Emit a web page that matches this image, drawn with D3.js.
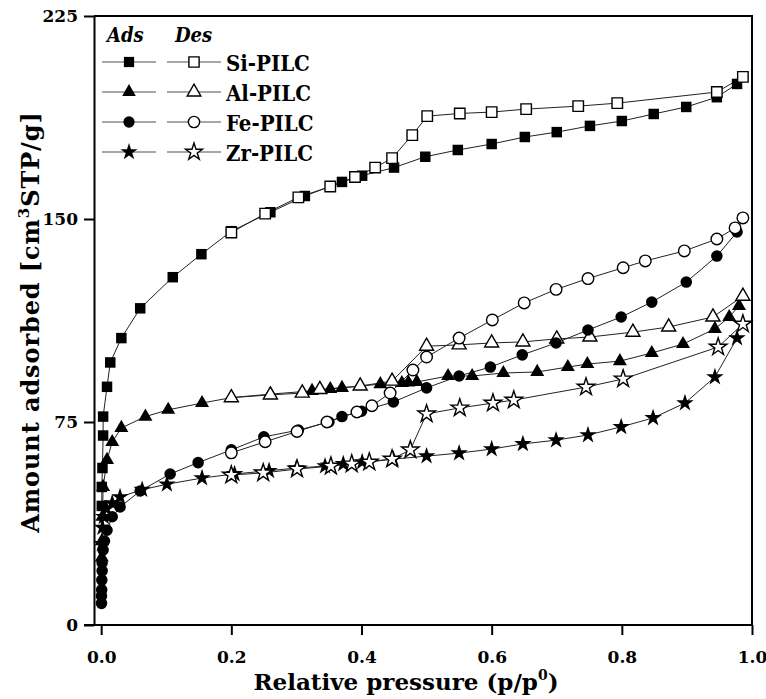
<!DOCTYPE html>
<html>
<head>
<meta charset="utf-8">
<script src="https://cdn.jsdelivr.net/npm/d3@7"></script>
<style>
  body { margin: 0; background: #fff; }
  text { font-family: 'DejaVu Serif', serif; font-weight: bold; }
  .cond { font-stretch: condensed; }
</style>
</head>
<body>
<div id="chart"></div>
<script>
// N2 isotherms, [relative pressure, amount adsorbed]

/* DATA */
const samples = ["Si-PILC", "Al-PILC", "Fe-PILC", "Zr-PILC"]
const xTicks = [0, 0.2, 0.4, 0.6, 0.8, 1.0]
const yTicks = [0, 75, 150, 225]

const siAds = [[0.001,44],[0.001,51],[0.002,58],[0.003,70],[0.003,77],[0.009,88],[0.014,97],[0.031,106],[0.06,117],[0.11,128.5],[0.154,137],[0.2,145.5],[0.26,152.5],[0.313,158.5],[0.37,163.7],[0.401,166],[0.45,169],[0.498,173],[0.548,175.5],[0.6,177.7],[0.651,180.3],[0.7,182.1],[0.751,184.4],[0.8,186.2],[0.849,188.8],[0.899,191.4],[0.946,195],[0.977,199.9]]
const siDes = [[0.986,202.5],[0.946,196.9],[0.793,192.8],[0.733,191.7],[0.653,190.6],[0.6,189.5],[0.551,189],[0.501,188],[0.478,181],[0.447,172.5],[0.421,169],[0.39,165.5],[0.352,162],[0.303,158],[0.252,152],[0.2,145]]

const alAds = [[0.001,25],[0.001,31],[0.002,40],[0.003,51],[0.009,61],[0.017,67.6],[0.031,72.8],[0.068,77],[0.103,79.5],[0.155,82],[0.2,84],[0.26,85.3],[0.324,86.5],[0.352,87.2],[0.37,87.6],[0.429,89],[0.462,89.4],[0.472,89.6],[0.485,89.8],[0.533,92],[0.57,92],[0.618,93.1],[0.67,93.5],[0.717,95.3],[0.747,96.4],[0.797,97.5],[0.846,100.5],[0.894,103.8],[0.943,109.4],[0.965,113.8],[0.98,117.9]]
const alDes = [[0.986,121.5],[0.94,113.8],[0.872,110.1],[0.817,108.2],[0.751,106.4],[0.7,105.7],[0.648,104.6],[0.6,104.2],[0.55,103.5],[0.5,103],[0.447,90.1],[0.398,88.3],[0.336,87],[0.309,85.7],[0.26,85],[0.2,84]]

const feAds = [[0.0005,8],[0.0005,10.7],[0.0008,13],[0.001,16.6],[0.0015,20],[0.0015,23],[0.003,27.7],[0.005,31],[0.009,35],[0.017,40],[0.029,43.6],[0.06,49.5],[0.106,55.8],[0.149,60],[0.2,64.7],[0.25,69.5],[0.303,72],[0.35,75],[0.37,77],[0.4,79],[0.449,82.4],[0.5,87.6],[0.55,92],[0.598,95.3],[0.647,99.8],[0.699,104.2],[0.748,109],[0.799,113.8],[0.846,119.3],[0.899,126.7],[0.946,136.3],[0.977,145.2]]
const feDes = [[0.986,150.4],[0.974,146.7],[0.946,142.6],[0.896,138.2],[0.836,134.5],[0.802,132],[0.748,128],[0.699,124],[0.65,119],[0.601,112.7],[0.55,106],[0.5,99],[0.479,94.2],[0.444,85.7],[0.416,81],[0.393,78.7],[0.347,75],[0.301,71.5],[0.252,67.7],[0.2,63.6]]

const zrAds = [[0.001,30],[0.002,36],[0.004,40],[0.008,43],[0.017,45],[0.029,47.3],[0.063,50],[0.101,52],[0.155,54.3],[0.205,55.8],[0.258,57],[0.3,58],[0.344,58.7],[0.372,59.5],[0.401,60.2],[0.449,61.3],[0.5,62.4],[0.55,63.5],[0.6,65],[0.648,66.9],[0.699,68.3],[0.748,70.2],[0.799,73.2],[0.848,76.5],[0.897,82],[0.943,91.6],[0.977,106]]
const zrDes = [[0.986,111.2],[0.948,102.7],[0.802,90.9],[0.745,87.9],[0.634,83.1],[0.602,82],[0.551,80.2],[0.5,78],[0.475,64.7],[0.447,61.3],[0.412,60.2],[0.385,59.5],[0.353,58.7],[0.301,57.6],[0.249,56.2],[0.2,55.4]]

/* CONSTANTS */
const width = 766
const height = 699
const margin = { top: 16, bottom: 74, left: 94, right: 14 }

const series = [
  { name: "Si-PILC", ads: siAds, des: siDes, shape: d3.symbolSquare, size: 110 },
  { name: "Al-PILC", ads: alAds, des: alDes, shape: d3.symbolTriangle, size: 85 },
  { name: "Fe-PILC", ads: feAds, des: feDes, shape: d3.symbolCircle, size: 105 },
  { name: "Zr-PILC", ads: zrAds, des: zrDes, shape: d3.symbolStar, size: 95 }
]

// SCALES
const xScale = d3.scaleLinear()
  .domain([-0.011, 1.0]) // zero sits a bit off the axis line
  .range([margin.left, width - margin.right])

const yScale = d3.scaleLinear()
  .domain([0, 225])
  .range([height - margin.bottom, margin.top])

const svg = d3.select("#chart")
  .append("svg")
  .attr("width", width)
  .attr("height", height)

// AXES
const xAxis = d3.axisBottom(xScale)
  .tickValues(xTicks)
  .tickSize(10)
  .tickSizeOuter(0)
  .tickFormat(d3.format(".1f"))

const yAxis = d3.axisLeft(yScale)
  .tickValues(yTicks)
  .tickSize(10)
  .tickSizeOuter(0)

const xAxisGroup = svg.append("g")
  .attr("transform", `translate(0, ${height - margin.bottom})`)
  .call(xAxis)

const yAxisGroup = svg.append("g")
  .attr("transform", `translate(${margin.left}, 0)`)
  .call(yAxis)

// extend the bottom axis under the 0 tick like the original
xAxisGroup.select(".domain").attr("d", `M${margin.left - 10},0H${width - margin.right}`)

svg.selectAll(".domain, .tick line")
  .attr("stroke", "#000")
  .attr("stroke-width", 2)
svg.selectAll(".tick text")
  .attr("fill", "#000")
  .style("font-size", "17px")
xAxisGroup.selectAll(".tick text").attr("dy", "1.45em")
yAxisGroup.selectAll(".tick text").attr("x", -16)

// top and right border
svg.append("path")
  .attr("d", `M${margin.left},${margin.top}H${width - margin.right}V${height - margin.bottom}`)
  .attr("fill", "none")
  .attr("stroke", "#000")
  .attr("stroke-width", 2)

// AXIS TITLES
const xTitle = svg.append("text")
  .attr("x", 406)
  .attr("y", 690)
  .attr("text-anchor", "middle")
  .style("font-size", "23px")
xTitle.append("tspan").text("Relative pressure (p/p")
xTitle.append("tspan").attr("dy", -10).style("font-size", "14px").text("0")
xTitle.append("tspan").attr("dy", 10).text(")")

const yTitle = svg.append("text")
  .attr("transform", `translate(39, 322) rotate(-90)`)
  .attr("text-anchor", "middle")
  .style("font-size", "24px")
  .style("letter-spacing", "0.9px")
yTitle.append("tspan").text("Amount adsorbed [cm")
yTitle.append("tspan").attr("dy", -10).style("font-size", "15px").text("3")
yTitle.append("tspan").attr("dy", 10).text("STP/g]")

// LINES
const line = d3.line()
  .x(d => xScale(d[0]))
  .y(d => yScale(d[1]))

const plot = svg.append("g")

series.forEach(s => {
  plot.append("path")
    .attr("d", line(s.ads))
    .attr("fill", "none")
    .attr("stroke", "#222")
    .attr("stroke-width", 1)
  plot.append("path")
    .attr("d", line(s.des))
    .attr("fill", "none")
    .attr("stroke", "#222")
    .attr("stroke-width", 1)
})

// POINTS
series.forEach(s => {
  const sym = d3.symbol().type(s.shape).size(s.size)
  plot.append("g").selectAll("path")
    .data(s.ads)
    .join("path")
      .attr("transform", d => `translate(${xScale(d[0])},${yScale(d[1])})`)
      .attr("d", sym)
      .attr("fill", "#000")
  plot.append("g").selectAll("path")
    .data(s.des)
    .join("path")
      .attr("transform", d => `translate(${xScale(d[0])},${yScale(d[1])})`)
      .attr("d", sym)
      .attr("fill", "#fff")
      .attr("stroke", "#000")
      .attr("stroke-width", 1.4)
})

// LEGEND
const legend = svg.append("g")

legend.append("text")
  .attr("class", "cond")
  .attr("x", 107).attr("y", 42)
  .style("font-style", "italic")
  .style("font-size", "20px")
  .text("Ads")
legend.append("text")
  .attr("class", "cond")
  .attr("x", 175).attr("y", 42)
  .style("font-style", "italic")
  .style("font-size", "20px")
  .text("Des")

const rows = legend.selectAll(".row")
  .data(series)
  .join("g")
    .attr("transform", (d, i) => `translate(0, ${62 + i * 30})`)

rows.append("line").attr("x1", 102).attr("x2", 156)
  .attr("stroke", "#8a8a8a").attr("stroke-width", 1.5)
rows.append("line").attr("x1", 167).attr("x2", 221)
  .attr("stroke", "#8a8a8a").attr("stroke-width", 1.5)
rows.append("path")
  .attr("transform", "translate(129,0)")
  .attr("d", d => d3.symbol().type(d.shape).size(d.size * 0.95)())
  .attr("fill", "#000")
rows.append("path")
  .attr("transform", "translate(194,0)")
  .attr("d", d => d3.symbol().type(d.shape).size(d.size * 0.95)())
  .attr("fill", "#fff")
  .attr("stroke", "#000")
  .attr("stroke-width", 1.4)
rows.append("text")
  .attr("class", "cond")
  .attr("x", 226)
  .attr("y", 9)
  .style("font-size", "22px")
  .text(d => d.name)
</script>
</body>
</html>
